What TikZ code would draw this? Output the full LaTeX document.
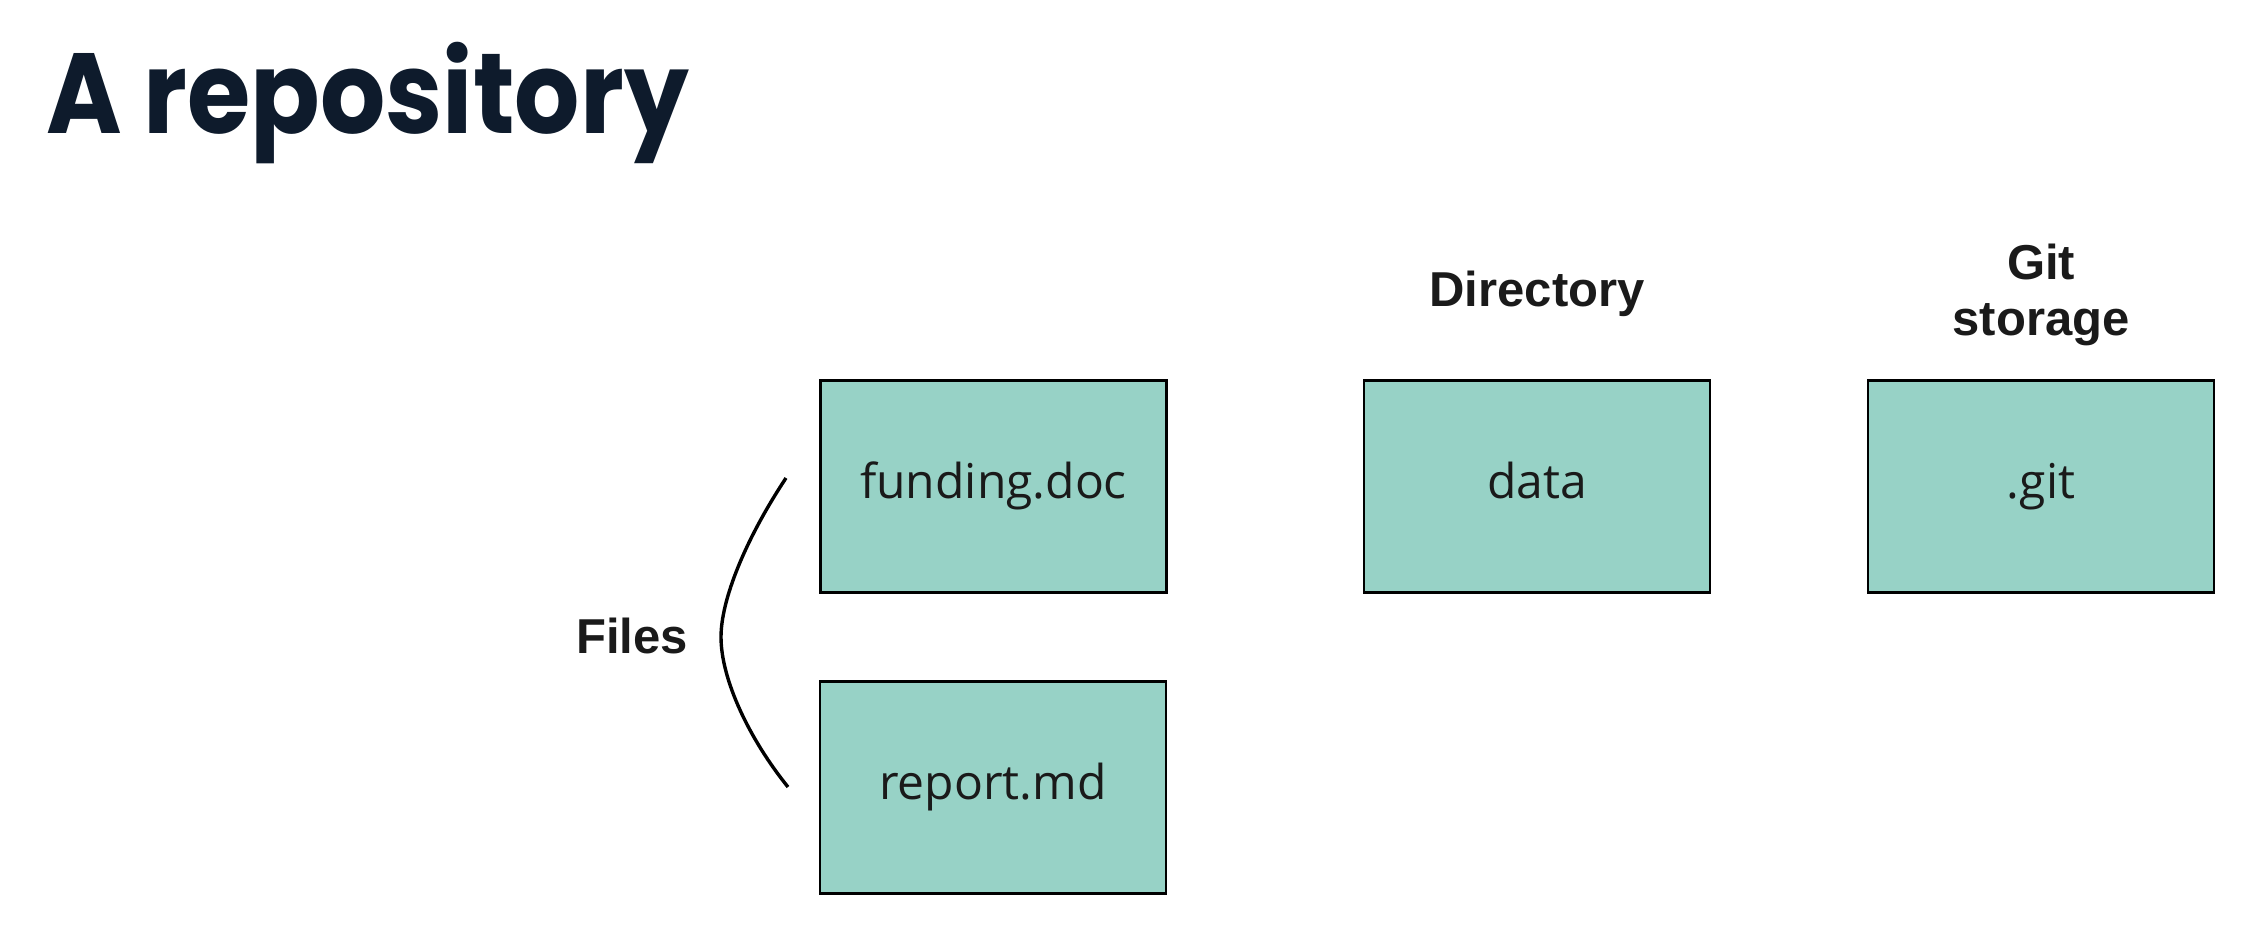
\documentclass[tikz,border=0pt]{standalone}
\usepackage{fontspec}
\setmainfont{Liberation Sans}
\newfontfamily\titlefont{Poppins}[FakeStretch=0.9]
\newfontfamily\boxfont{Open Sans}
\definecolor{titlecol}{HTML}{0E1B2C}
\definecolor{boxfill}{HTML}{97D2C6}
\definecolor{labcol}{HTML}{1A1A1A}
\begin{document}
\begin{tikzpicture}[x=1pt,y=-1pt,
  filebox/.style={draw=black,line width=2.8pt,fill=boxfill,rectangle,minimum width=346pt,minimum height=212pt,inner sep=0pt,text height=34pt,text depth=10pt,font=\boxfont\fontsize{48}{56}\selectfont,text=labcol},
  lab/.style={font=\bfseries\fontsize{49}{56}\selectfont,text=labcol,align=center,inner sep=0pt}]
\useasboundingbox[fill=white] (0,0) rectangle (2266,946);
\node[anchor=base west,inner sep=0pt,text=titlecol,font=\titlefont\bfseries\fontsize{114}{120}\selectfont] (title) at (46,133) {A repository};
\node[filebox] (funding) at (993.5,486.5) {funding.doc};
\node[filebox] (report) at (993,787.5) {report.md};
\node[filebox] (data) at (1537,486.5) {data};
\node[filebox] (git) at (2041,486.5) {.git};
\node[lab,anchor=base] (dir) at (1537,306) {Directory};
\node[lab,anchor=base] (gitst) at (2041,335) {Git\\storage};
\node[lab,anchor=base] (files) at (632,653) {Files};
\coordinate (btop) at (786,478);
\coordinate (bmid) at (721,637);
\coordinate (bbot) at (788,787);
\draw[line width=3.4pt] (btop) .. controls (745,540) and (721,600) .. (bmid) .. controls (721,680) and (750,740) .. (bbot);
\end{tikzpicture}
\end{document}
